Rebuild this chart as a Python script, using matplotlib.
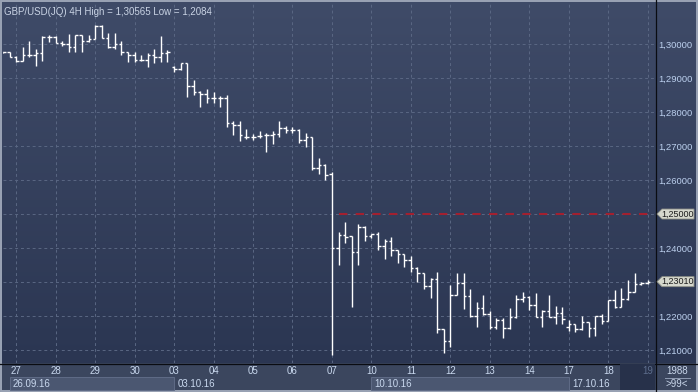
import numpy as np
import matplotlib
matplotlib.use("Agg")
import matplotlib.pyplot as plt
from matplotlib.colors import LinearSegmentedColormap
from matplotlib.patches import Rectangle, Polygon
from matplotlib.transforms import IdentityTransform

plt.rcParams['font.family'] = ['Liberation Sans', 'DejaVu Sans']

# 4H bars GBP/USD, 26.09.16 .. 19.10.16
opens = [1.29756, 1.29756, 1.29626, 1.29509, 1.29685, 1.29685, 1.29726, 1.30215, 1.30215, 1.30038,
         1.30000, 1.29903, 1.30265, 1.30097, 1.30147, 1.30529, 1.30168, 1.29921, 1.30000, 1.29756,
         1.29676, 1.29529, 1.29529, 1.29676, 1.29626, 1.29726, 1.29332, 1.29256, 1.29432, 1.28765,
         1.28597, 1.28529, 1.28403, 1.28403, 1.28403, 1.27685, 1.27618, 1.27256, 1.27274, 1.27294,
         1.27315, 1.27315, 1.27353, 1.27521, 1.27471, 1.27471, 1.27176, 1.27256, 1.26344, 1.26441,
         1.26176, 1.23991, 1.24382, 1.24353, 1.23874, 1.24609, 1.24353, 1.24403, 1.24068, 1.24215,
         1.23941, 1.23815, 1.23647, 1.23403, 1.23256, 1.22882, 1.23088, 1.21618, 1.21265, 1.22618,
         1.22980, 1.22588, 1.22000, 1.22226, 1.22059, 1.21679, 1.21882, 1.21650, 1.21962, 1.22491,
         1.22550, 1.22324, 1.21979, 1.22156, 1.21962, 1.22074, 1.21668, 1.21765, 1.21609, 1.21832,
         1.21638, 1.22000, 1.21862, 1.22471, 1.22274, 1.22491, 1.22715, 1.22941, 1.22980]
highs = [1.29774, 1.29756, 1.29647, 1.29921, 1.30097, 1.29862, 1.30235, 1.30274, 1.30235, 1.30079,
         1.30294, 1.30274, 1.30274, 1.30265, 1.30565, 1.30550, 1.30315, 1.30315, 1.30097, 1.29774,
         1.29756, 1.29676, 1.29744, 1.29844, 1.30235, 1.29824, 1.29353, 1.29450, 1.29450, 1.28941,
         1.28626, 1.28668, 1.28597, 1.28471, 1.28500, 1.27744, 1.27744, 1.27491, 1.27353, 1.27441,
         1.27374, 1.27441, 1.27735, 1.27588, 1.27568, 1.27509, 1.27374, 1.27274, 1.26638, 1.26471,
         1.26244, 1.24479, 1.24774, 1.24353, 1.24706, 1.24647, 1.24412, 1.24479, 1.24256, 1.24315,
         1.23941, 1.23815, 1.23765, 1.23432, 1.23256, 1.23109, 1.23303, 1.21618, 1.22912, 1.23256,
         1.23256, 1.22785, 1.22421, 1.22618, 1.22147, 1.21950, 1.21950, 1.22226, 1.22618, 1.22715,
         1.22588, 1.22668, 1.22176, 1.22618, 1.22294, 1.22256, 1.21874, 1.21765, 1.22000, 1.21832,
         1.22000, 1.22059, 1.22471, 1.22765, 1.22815, 1.23059, 1.23256, 1.23009, 1.23050]
lows = [1.29735, 1.29609, 1.29479, 1.29509, 1.29609, 1.29362, 1.29509, 1.30068, 1.30021, 1.29941,
        1.29774, 1.29756, 1.29756, 1.30068, 1.30138, 1.30168, 1.29874, 1.29844, 1.29676, 1.29479,
        1.29462, 1.29509, 1.29332, 1.29450, 1.29479, 1.29479, 1.29185, 1.29235, 1.28432, 1.28500,
        1.28156, 1.28256, 1.28274, 1.28156, 1.27550, 1.27324, 1.27156, 1.27197, 1.27176, 1.27226,
        1.26832, 1.27059, 1.27256, 1.27391, 1.27391, 1.27079, 1.26962, 1.26294, 1.26176, 1.26000,
        1.20840, 1.23500, 1.24156, 1.22274, 1.23500, 1.24215, 1.24285, 1.23941, 1.23668, 1.23765,
        1.23550, 1.23450, 1.23303, 1.23009, 1.22785, 1.22521, 1.21491, 1.20903, 1.21080, 1.22618,
        1.22197, 1.21962, 1.21668, 1.22029, 1.21609, 1.21609, 1.21344, 1.21609, 1.21932, 1.22421,
        1.22176, 1.21962, 1.21679, 1.21962, 1.21765, 1.21765, 1.21568, 1.21538, 1.21588, 1.21374,
        1.21412, 1.21765, 1.21840, 1.22226, 1.22256, 1.22470, 1.22715, 1.22912, 1.22950]
closes = [1.29756, 1.29626, 1.29509, 1.29685, 1.29685, 1.29726, 1.30215, 1.30215, 1.30038, 1.30000,
          1.29903, 1.30265, 1.30097, 1.30147, 1.30529, 1.30168, 1.29921, 1.30000, 1.29756, 1.29676,
          1.29529, 1.29529, 1.29676, 1.29626, 1.29726, 1.29756, 1.29256, 1.29432, 1.28765, 1.28597,
          1.28529, 1.28403, 1.28403, 1.28403, 1.27685, 1.27618, 1.27324, 1.27256, 1.27274, 1.27294,
          1.27315, 1.27353, 1.27521, 1.27471, 1.27471, 1.27176, 1.27256, 1.26344, 1.26441, 1.26147,
          1.23991, 1.24382, 1.24315, 1.23874, 1.24609, 1.24353, 1.24403, 1.24068, 1.24215, 1.23941,
          1.23815, 1.23647, 1.23403, 1.23256, 1.22882, 1.23088, 1.21618, 1.21265, 1.22618, 1.22980,
          1.22588, 1.22000, 1.22226, 1.22059, 1.21679, 1.21882, 1.21650, 1.21962, 1.22491, 1.22550,
          1.22324, 1.21979, 1.22156, 1.21962, 1.22074, 1.21903, 1.21765, 1.21609, 1.21832, 1.21638,
          1.22000, 1.21862, 1.22471, 1.22274, 1.22491, 1.22715, 1.22941, 1.22980, 1.23010]

day_labels = ['27', '28', '29', '30', '03', '04', '05', '06', '07', '10',
              '11', '12', '13', '14', '17', '18', '19']
week_labels = ['26.09.16', '03.10.16', '10.10.16', '17.10.16']
bars_per_day = 6
first_day_bar = 2          # first bar of day 27
level = 1.25               # red dashed level
level_from = 51            # level starts at this bar
title = 'GBP/USD(JQ) 4H High = 1,30565 Low = 1,2084'

W, H = 698, 392
fig = plt.figure(figsize=(W / 100, H / 100), dpi=100)

# background panels in pixel coords
bg = fig.add_axes([0, 0, 1, 1], zorder=-1)
bg.set_xlim(0, W)
bg.set_ylim(H, 0)
bg.axis('off')
cmap = LinearSegmentedColormap.from_list('bg', ['#3f4b68', '#2b3652'])
bg.imshow(np.linspace(0, 1, 256).reshape(-1, 1), cmap=cmap, aspect='auto',
          extent=(0, W, 363, 0))
bg.add_patch(Rectangle((0, 363), W, 29, fc='#3b465e', ec='none'))
bg.plot([655.5, 655.5], [0, H], color='#0a0c12', lw=0.9)
bg.plot([0, W], [363.5, 363.5], color='#0a0c12', lw=0.9)
bg.add_patch(Rectangle((0.7, 0.7), W - 1.4, H - 1.4, fc='none', ec='#9ba4b6', lw=1.4))
bg.text(677, 371, '1988', color='#c9d6ea', fontsize=7, ha='center', va='center')
bg.plot([665, 690], [377.5, 377.5], color='#8f9bb2', lw=0.7)
bg.text(677, 384, '>99<', color='#c9d6ea', fontsize=7, ha='center', va='center')

n = len(closes)
idx = np.arange(n)
day_idx = [first_day_bar + bars_per_day * k for k in range(len(day_labels))]
week_idx = [first_day_bar - 2, day_idx[4], day_idx[9], day_idx[14]]
marked = [level, closes[-1]]

L, R = 3 / W, 655 / W
ax = fig.add_axes([L, 29 / H, R - L, 360 / H])
ax.set_facecolor('none')
ax.set_xlim(0.0, 99.1)
ax.set_ylim(1.20618, 1.31206)
for s in ax.spines.values():
    s.set_visible(False)

yt = np.arange(1.21, 1.3001, 0.01)
for v in yt:
    ax.axhline(v, color='#5a6783', lw=0.7, ls=(0, (3, 3)), zorder=1)
for d in day_idx:
    ax.axvline(d, color='#5a6783', lw=0.7, ls=(0, (3, 3)), zorder=1)

tick = 0.38
ax.vlines(idx, lows, highs, color='white', lw=1.0, zorder=3)
ax.hlines(opens, idx - tick, idx, color='white', lw=1.0, zorder=3)
ax.hlines(closes, idx, idx + tick, color='white', lw=1.0, zorder=3)

ax.hlines(level, level_from, 99.1, color='#a3202f', lw=1.5, ls=(0, (4, 4)), zorder=2)

# regular labels, hidden where a marked price label covers them
ylabs = []
for v in yt:
    covered = any(abs(v - m) < 0.002 for m in marked)
    ylabs.append('' if covered else f'{v:.5f}'.replace('.', ','))
ax.yaxis.tick_right()
ax.set_yticks(yt)
ax.set_yticklabels(ylabs)
ax.tick_params(axis='y', length=0, pad=2.5, labelsize=6.8, labelcolor='#bcd0ee')
ax.set_xticks([])
ax.text(0.002, 0.99, title, transform=ax.transAxes, ha='left', va='top',
        fontsize=7, color='#c9d3e4')

# bottom time axis
axb = fig.add_axes([L, 0, R - L, 29 / H], sharex=ax)
axb.set_facecolor('none')
axb.set_ylim(0, 1)
axb.axis('off')
for k in (0, 2):
    x0 = max(week_idx[k], 1.0)
    axb.add_patch(Rectangle((x0, 0.07), week_idx[k + 1] - x0, 0.45,
                            fc='#4b5771', ec='#5f6b86', lw=0.7))
axb.add_patch(Rectangle((day_idx[-1] - 4.2, 0.08), 99.1 - day_idx[-1] + 4.2, 0.89,
                        fc='#27314a', ec='none'))
for d, lab in zip(day_idx, day_labels):
    c = '#5d6d8c' if lab == day_labels[-1] else '#c9d8ee'
    axb.text(d, 0.72, lab, ha='center', va='center', fontsize=7, color=c)
for k, lab in enumerate(week_labels):
    x0 = max(week_idx[k], 1.0)
    axb.text(x0 + 0.5, 0.29, lab, ha='left', va='center', fontsize=7, color='#c9d8ee')

# highlighted price labels on the right axis
fig.canvas.draw()
for p in marked:
    txt = f'{p:.5f}'.replace('.', ',')
    y = ax.transData.transform((0, p))[1]
    pts = [(657, y), (662, y + 5), (694, y + 5), (694, y - 5), (662, y - 5)]
    fig.add_artist(Polygon(pts, closed=True, fc='#d6d8cd', ec='#8d8f86', lw=0.6,
                           transform=IdentityTransform(), zorder=5))
    fig.text(677.5 / W, y / H, txt, ha='center', va='center', fontsize=6.5,
             color='#1c1c1c', zorder=6)

fig.savefig('out.png', dpi=100)
